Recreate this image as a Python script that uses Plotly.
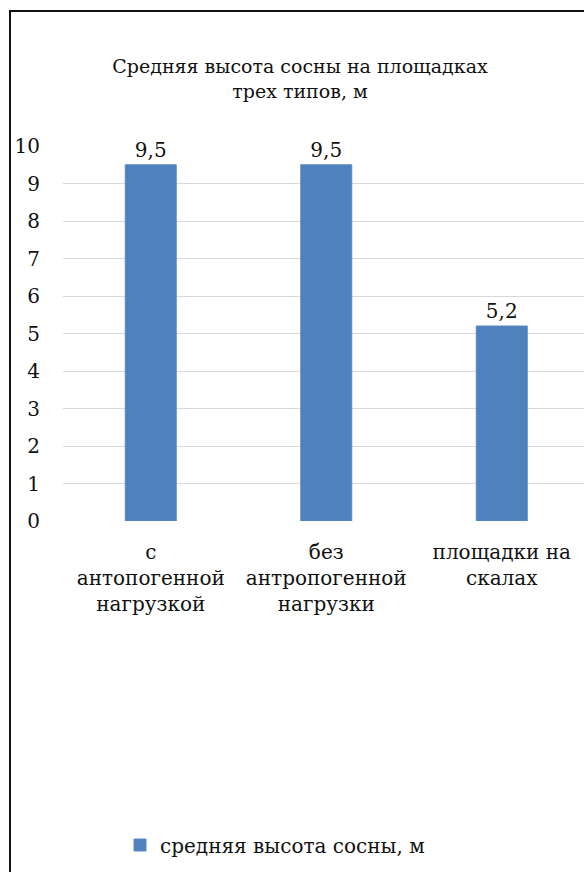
import plotly.graph_objects as go

# Average pine height on three plot types
categories = ["с<br>антопогенной<br>нагрузкой", "без<br>антропогенной<br>нагрузки", "площадки на<br>скалах"]
heights = [9.5, 9.5, 5.2]
series_name = "средняя высота сосны, м"
title_text = "Средняя высота сосны на площадках<br>трех типов, м"
y_ticks = list(range(0, 11))

W, H = 584, 872
ML, MR, MT, MB = 63, 0, 146, 351
plot_w = W - ML - MR
plot_h = H - MT - MB

FONT = "DejaVu Serif"
FS = 20
TXT_COLOR = "#111111"
txt = dict(family=FONT, size=FS, color=TXT_COLOR)

fig = go.Figure()
fig.add_trace(go.Bar(
    x=list(range(len(categories))),
    y=heights,
    name=series_name,
    marker=dict(color="#4f81bd", line=dict(color="#5b8ac4", width=1)),
    text=[f"{v:.1f}".replace(".", ",") for v in heights],
    textposition="outside",
    textfont=txt,
    cliponaxis=False,
    showlegend=True,
))

# category spacing ~175.5 px; plot area runs past the right edge
cat_px = 175.5
fig.update_layout(
    width=W, height=H,
    margin=dict(l=ML, r=MR, t=MT, b=MB, pad=0),
    paper_bgcolor="white", plot_bgcolor="white",
    bargap=1 - 51 / cat_px,
    font=txt,
    title=dict(text=title_text, x=300 / W, xanchor="center",
               y=1 - 73 / H, yanchor="middle",
               font=dict(family=FONT, size=19, color=TXT_COLOR)),
    xaxis=dict(
        range=[-0.5, -0.5 + plot_w / cat_px],
        tickmode="array", tickvals=list(range(len(categories))), ticktext=categories,
        showgrid=False, zeroline=False, showline=False, ticks="outside",
        ticklen=13, tickcolor="rgba(0,0,0,0)",
        tickfont=txt,
        fixedrange=True,
    ),
    yaxis=dict(
        range=[0, 10], tickmode="array", tickvals=y_ticks,
        showgrid=True, gridcolor="#d9d9d9", gridwidth=1.3,
        zeroline=False, showline=False, ticks="outside",
        ticklen=18, tickcolor="rgba(0,0,0,0)",
        tickfont=txt,
        fixedrange=True,
    ),
    legend=dict(orientation="h",
                x=(120 - ML) / plot_w, xanchor="left", y=(H - MB - 845) / plot_h, yanchor="middle",
                font=txt,
                bgcolor="rgba(0,0,0,0)"),
)

# outer frame of the chart (left and top edges visible)
def px_to_paper_x(px):
    return (px - ML) / plot_w

def px_to_paper_y(py):
    return (H - MB - py) / plot_h

fig.add_shape(type="line", xref="paper", yref="paper",
              x0=px_to_paper_x(10), x1=px_to_paper_x(10),
              y0=px_to_paper_y(11), y1=px_to_paper_y(880),
              line=dict(color="#111111", width=2))
fig.add_shape(type="line", xref="paper", yref="paper",
              x0=px_to_paper_x(9), x1=px_to_paper_x(600),
              y0=px_to_paper_y(11), y1=px_to_paper_y(11),
              line=dict(color="#111111", width=2))

fig.write_html("out.html")
